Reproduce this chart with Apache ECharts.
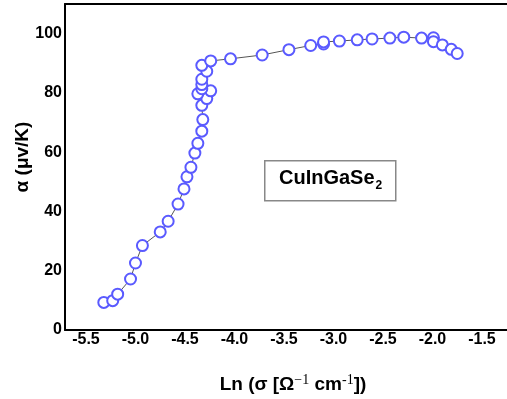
<!DOCTYPE html>
<html>
<head>
<meta charset="utf-8">
<script src="https://cdn.jsdelivr.net/npm/echarts@6/dist/echarts.min.js"></script>
<style>
  html, body { margin: 0; padding: 0; background: #fff; }
  #chart { width: 507px; height: 399px; }
</style>
</head>
<body>
<div id="chart"></div>
<script>
var lnSigma = [-5.32, -5.23, -5.18, -5.05, -5.0, -4.93, -4.75, -4.67, -4.57, -4.51, -4.48, -4.44,
  -4.40, -4.37, -4.33, -4.32, -4.33, -4.28, -4.37, -4.24, -4.33, -4.33, -4.33, -4.28, -4.33, -4.24,
  -4.04, -3.72, -3.45, -3.23, -3.10, -3.10, -2.94, -2.76, -2.61, -2.43, -2.29, -2.11, -1.99, -1.99,
  -1.90, -1.81, -1.75];
var alpha = [9.3, 9.9, 12.1, 17.2, 22.6, 28.5, 33.1, 36.7, 42.5, 47.6, 51.7, 54.9,
  59.7, 63.0, 67.1, 71.0, 75.8, 78.1, 79.7, 80.7, 81.4, 82.8, 84.6, 87.3, 89.3, 90.8,
  91.5, 92.8, 94.6, 96.0, 96.5, 97.2, 97.5, 97.9, 98.2, 98.5, 98.8, 98.5, 98.6, 97.3,
  96.2, 94.7, 93.3];
var xTicks = [-5.5, -5.0, -4.5, -4.0, -3.5, -3.0, -2.5, -2.0, -1.5];
var yTicks = [0, 20, 40, 60, 80, 100];

var points = lnSigma.map(function (x, i) { return [x, alpha[i]]; });

var myChart = echarts.init(document.getElementById('chart'));

var labelFont = 'Liberation Sans, Arial, sans-serif';

var option = {
  animation: false,
  grid: { left: 65, top: 4, right: 0, bottom: 69, outerBoundsMode: 'none' },
  xAxis: [{
    type: 'value',
    min: -5.712,
    max: -1.247,
    splitLine: { show: false },
    axisLine: { onZero: false, lineStyle: { color: '#000', width: 2 } },
    axisTick: { show: false },
    axisLabel: {
      customValues: xTicks,
      formatter: function (v) { return v.toFixed(1); },
      color: '#000', fontWeight: 'bold', fontSize: 16, fontFamily: labelFont, margin: 2
    },
    name: '{t|Ln (σ [Ω}{s|−1}{t| cm}{s|-1}{t|])}',
    nameLocation: 'middle',
    nameGap: 43,
    nameTextStyle: {
      padding: [0, 0, 0, 14],
      rich: {
        t: { fontSize: 19, fontWeight: 'bold', color: '#000', fontFamily: labelFont },
        s: { fontSize: 14, color: '#000', fontFamily: 'Liberation Serif, serif', verticalAlign: 'top', padding: [0, 0, 10, 0] }
      }
    }
  }, {
    type: 'value',
    position: 'top',
    min: -5.712,
    max: -1.247,
    splitLine: { show: false },
    axisLine: { onZero: false, lineStyle: { color: '#000', width: 2 } },
    axisTick: { show: false },
    axisLabel: { show: false }
  }],
  yAxis: {
    type: 'value',
    min: 0,
    max: 110,
    splitLine: { show: false },
    axisLine: { onZero: false, lineStyle: { color: '#000', width: 2 } },
    axisTick: { show: false },
    axisLabel: {
      customValues: yTicks,
      color: '#000', fontWeight: 'bold', fontSize: 16, fontFamily: labelFont, margin: 3
    },
    name: 'α (μv/K)',
    nameLocation: 'middle',
    nameRotate: 90,
    nameGap: 33,
    nameMoveOverlap: false,
    nameTextStyle: { fontSize: 19, fontWeight: 'bold', color: '#000', fontFamily: labelFont, padding: [0, 0, 0, 20] }
  },
  graphic: [{
    type: 'rect',
    left: 264, top: 160,
    shape: { width: 131, height: 40 },
    style: { fill: '#fff', stroke: '#888', lineWidth: 1.5 }
  }, {
    type: 'text',
    left: 279, top: 168,
    style: {
      text: '{a|CuInGaSe}{b|2}',
      rich: {
        a: { fontSize: 20, fontWeight: 'bold', fill: '#000', fontFamily: labelFont },
        b: { fontSize: 12, fontWeight: 'bold', fill: '#000', fontFamily: labelFont, padding: [16, 0, 0, 1] }
      }
    }
  }],
  series: [{
    type: 'line',
    data: points,
    symbol: 'emptyCircle',
    symbolSize: 11,
    itemStyle: { color: '#5a5aff', borderWidth: 1 },
    lineStyle: { color: '#555', width: 1 }
  }]
};

myChart.setOption(option);
</script>
</body>
</html>
